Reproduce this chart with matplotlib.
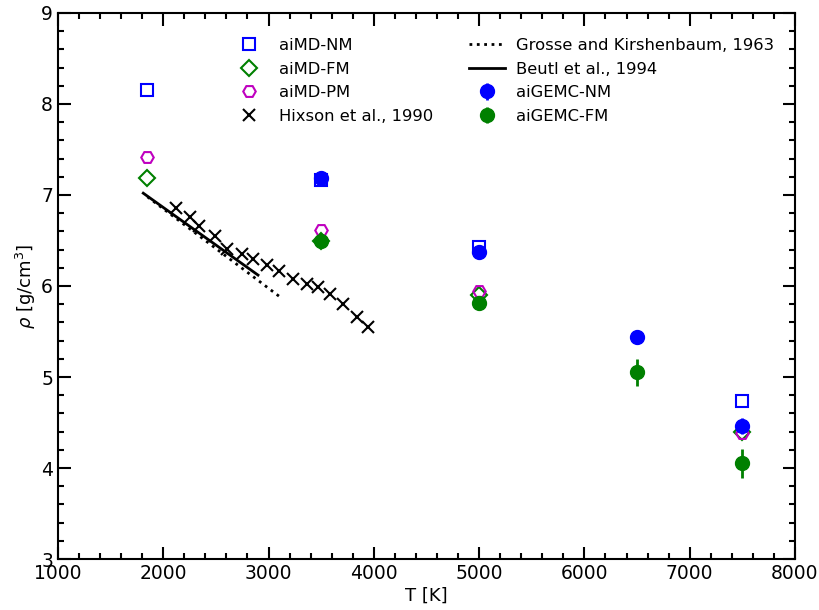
import matplotlib
matplotlib.use("Agg")
import matplotlib.pyplot as plt
from matplotlib.ticker import MultipleLocator

# aiMD results
T_md = [1850, 3500, 5000, 7500]
rho_md_nm = [8.15, 7.16, 6.43, 4.74]
rho_md_fm = [7.19, 6.49, 5.90, 4.40]
rho_md_pm = [7.42, 6.61, 5.94, 4.39]

# aiGEMC results
T_gemc = [3500, 5000, 6500, 7500]
rho_gemc_nm = [7.19, 6.37, 5.44, 4.46]
err_gemc_nm = [0.04, 0.05, 0.08, 0.09]
rho_gemc_fm = [6.49, 5.81, 5.05, 4.05]
err_gemc_fm = [0.04, 0.04, 0.15, 0.16]

# Hixson et al., 1990
T_hix = [2121, 2254, 2339, 2491, 2602, 2745, 2855, 2982, 3102, 3229,
         3362, 3472, 3583, 3704, 3837, 3947]
rho_hix = [6.86, 6.76, 6.66, 6.55, 6.41, 6.35, 6.30, 6.23, 6.16, 6.08,
           6.02, 5.99, 5.91, 5.80, 5.66, 5.55]

# Grosse and Kirshenbaum, 1963
T_gk = [1850, 3120]
rho_gk = [6.98, 5.87]

# Beutl et al., 1994
T_beutl = [1810, 2900]
rho_beutl = [7.02, 6.12]

fig = plt.figure(figsize=(8.2, 6.1), dpi=100)
ax = fig.add_axes([0.0707, 0.0836, 0.8988, 0.8951])

h_nm, = ax.plot(T_md, rho_md_nm, ls="none", marker="s", ms=8.5, mfc="none",
                mec="blue", mew=1.5, label="aiMD-NM")
h_fm, = ax.plot(T_md, rho_md_fm, ls="none", marker="D", ms=8.5, mfc="none",
                mec="green", mew=1.5, label="aiMD-FM")
h_pm, = ax.plot(T_md, rho_md_pm, ls="none", marker="H", ms=9, mfc="none",
                mec="m", mew=1.5, label="aiMD-PM")
h_hix, = ax.plot(T_hix, rho_hix, ls="none", marker="x", ms=9, mec="black",
                 mew=1.5, label="Hixson et al., 1990")
h_gk, = ax.plot(T_gk, rho_gk, ls=":", color="black", lw=2,
                label="Grosse and Kirshenbaum, 1963")
h_beutl, = ax.plot(T_beutl, rho_beutl, ls="-", color="black", lw=2,
                   label="Beutl et al., 1994")
h_gnm = ax.errorbar(T_gemc, rho_gemc_nm, yerr=err_gemc_nm, ls="none", marker="o",
                    ms=10, color="blue", elinewidth=2, capsize=0, label="aiGEMC-NM")
h_gfm = ax.errorbar(T_gemc, rho_gemc_fm, yerr=err_gemc_fm, ls="none", marker="o",
                    ms=10, color="green", elinewidth=2, capsize=0, label="aiGEMC-FM")

ax.set_xlim(1000, 8000)
ax.set_ylim(3, 9)
ax.xaxis.set_major_locator(MultipleLocator(1000))
ax.xaxis.set_minor_locator(MultipleLocator(200))
ax.yaxis.set_major_locator(MultipleLocator(1))
ax.yaxis.set_minor_locator(MultipleLocator(0.2))
ax.tick_params(which="both", direction="in", top=True, right=True, width=1.5,
               labelsize=13.5)
ax.tick_params(which="major", length=9)
ax.tick_params(which="minor", length=4.5)
for s in ax.spines.values():
    s.set_linewidth(1.5)

ax.set_xlabel("T [K]", fontsize=13, labelpad=3)
ax.set_ylabel(r"$\rho$ [g/cm$^3$]", fontsize=13, labelpad=2)

handles = [h_nm, h_fm, h_pm, h_hix, h_gk, h_beutl, h_gnm, h_gfm]
labels = [h.get_label() for h in handles]
ax.legend(handles, labels, ncol=2, frameon=False, fontsize=11.8,
          loc="upper left", bbox_to_anchor=(0.226, 0.966), handlelength=2.2,
          handletextpad=0.7, columnspacing=2.2, labelspacing=0.52,
          borderaxespad=0)

fig.savefig("out.png", dpi=100)
